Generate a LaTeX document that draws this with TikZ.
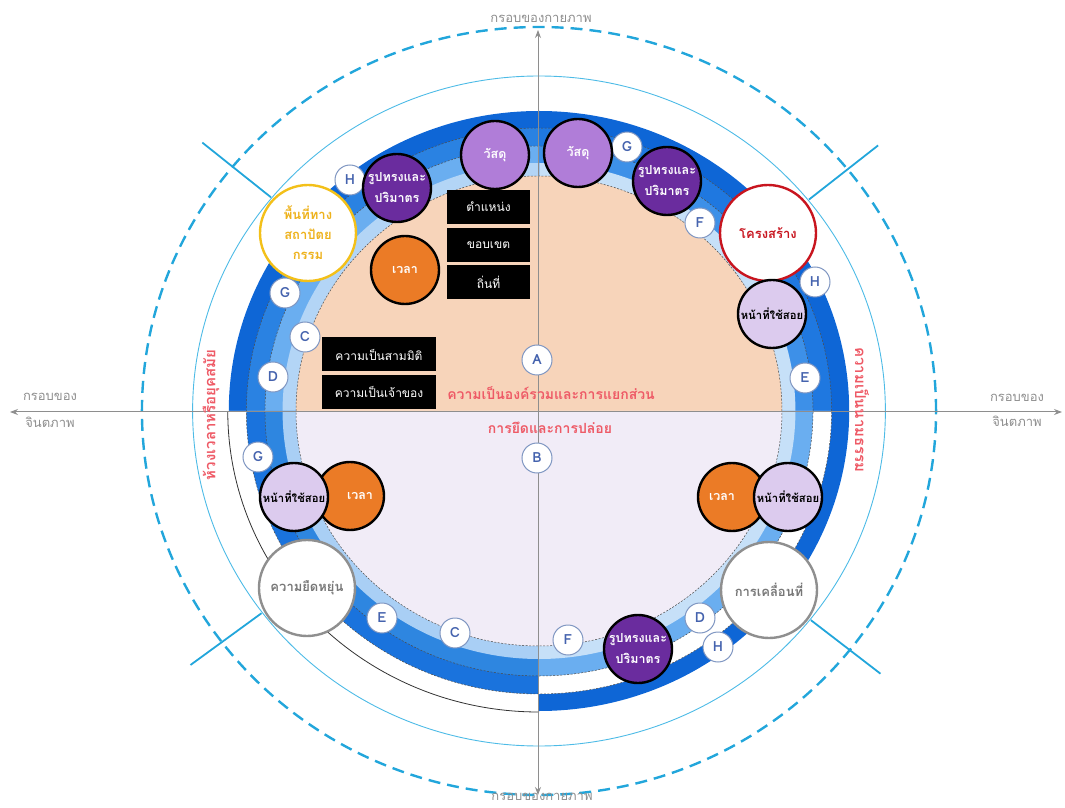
\documentclass[tikz,border=0pt]{standalone}
\usepackage{fontspec}
\setmainfont{Loma}[Script=Thai]
\usepackage{tikz}
\usetikzlibrary{arrows.meta}

\definecolor{peach}{HTML}{F7D4BA}
\definecolor{lilac}{HTML}{F1ECF7}
\definecolor{ringpale}{HTML}{C6E0F8}
\definecolor{ringsky}{HTML}{B3D5F6}
\definecolor{ringlight}{HTML}{A9CFF5}
\definecolor{ringsoft}{HTML}{6AAEF0}
\definecolor{ringmid}{HTML}{3D90E8}
\definecolor{ringbase}{HTML}{2E86E0}
\definecolor{ringmain}{HTML}{2A82E2}
\definecolor{ringdeep}{HTML}{1F78E0}
\definecolor{ringnavy}{HTML}{1A73DD}
\definecolor{ringdark}{HTML}{0E66D6}
\definecolor{frame}{HTML}{22A6DB}
\definecolor{framethin}{HTML}{4DBBE6}
\definecolor{axisgray}{HTML}{8E8E8E}
\definecolor{labelred}{HTML}{EE5A66}
\definecolor{badgeline}{HTML}{8097C2}
\definecolor{badgetext}{HTML}{4563AE}
\definecolor{matpurple}{HTML}{B07DD8}
\definecolor{formpurple}{HTML}{6A2C9E}
\definecolor{timeorange}{HTML}{EB7B26}
\definecolor{uselilac}{HTML}{DCCBEE}
\definecolor{gold}{HTML}{F3C019}
\definecolor{goldtext}{HTML}{EEB21C}
\definecolor{structred}{HTML}{C8151F}
\definecolor{softgray}{HTML}{8F8F8F}
\definecolor{softgraytext}{HTML}{777777}

\begin{document}
\begin{tikzpicture}[
    x=1pt, y=1pt,
    badge/.style={circle, draw=badgeline, line width=1pt, fill=white,
        minimum size=30pt, inner sep=0pt, text=badgetext,
        font=\bfseries\fontsize{14}{14}\selectfont},
    bubble/.style={circle, draw=black, line width=2.4pt, minimum size=68pt,
        inner sep=0pt, align=center, font=\bfseries\fontsize{12.5}{21}\selectfont},
    bigbubble/.style={bubble, minimum size=96pt, font=\bfseries\fontsize{13}{20}\selectfont},
    usefont/.style={font=\bfseries\fontsize{11.3}{13}\selectfont},
    blackbox/.style={fill=black, text=white, minimum height=34pt, inner sep=0pt,
        font=\fontsize{12}{14}\selectfont},
    redlabel/.style={text=labelred, font=\bfseries\fontsize{14}{16}\selectfont},
    graylabel/.style={text=axisgray, font=\fontsize{13}{15}\selectfont},
    sepline/.style={black!70, line width=0.5pt, dash pattern=on 2pt off 1.5pt},
    axisline/.style={axisgray, line width=1pt,
        {Stealth[length=8pt,width=6pt]}-{Stealth[length=8pt,width=6pt]}}
]
    \useasboundingbox (-539,-397) rectangle (526,411);

    \begin{scope}[xscale=1.034]
        % outer frames
        \draw[frame, line width=2.4pt, dash pattern=on 12pt off 7pt] (0,0) circle (384);
        \draw[framethin, line width=0.9pt] (0,0) circle (335);
        \foreach \a in {39,140.5,217,321.5}
            \draw[frame, line width=1.8pt] (\a:336) -- (\a:422);

        % ring bands, one quadrant at a time
        \foreach \a/\ci/\cii/\ciii/\civ in {0/ringpale/ringmid/ringdeep/ringdark,
                90/ringsky/ringsoft/ringmain/ringdark,
                180/ringlight/ringbase/ringnavy/white,
                270/ringpale/ringsoft/white/ringdark}{
            \foreach \r/\c in {300/\civ,283/\ciii,265/\cii,248/\ci}
                \fill[\c] (0,0) -- (\a:\r) arc[start angle=\a, delta angle=90, radius=\r] -- cycle;
        }

        % inner disc
        \fill[peach] (0,0) -- (0:235) arc[start angle=0, end angle=180, radius=235] -- cycle;
        \fill[lilac] (0,0) -- (180:235) arc[start angle=180, end angle=360, radius=235] -- cycle;
        \draw[sepline] (0,0) circle (235);
        \draw[sepline] (0,0) circle (265);
        \draw[sepline] (0,0) circle (283);
        \draw[black!80, line width=0.8pt] (180:301) arc[start angle=180, end angle=270, radius=301];
    \end{scope}

    % axes
    \coordinate (north) at (-1,381);
    \coordinate (south) at (-1,-384);
    \coordinate (west) at (-529,-1);
    \coordinate (east) at (523,-1);
    \draw[axisline] (south) -- (north);
    \draw[axisline] (west) -- (east);

    \node[graylabel] (phystop) at (2,392) {กรอบของกายภาพ};
    \node[graylabel] (physbot) at (3,-386) {กรอบของกายภาพ};
    \node[graylabel] (imgwa) at (-489,14) {กรอบของ};
    \node[graylabel] (imgwb) at (-489,-11) {จินตภาพ};
    \node[graylabel] (imgea) at (478,13) {กรอบของ};
    \node[graylabel] (imgeb) at (478,-10) {จินตภาพ};

    % side and centre labels
    \node[redlabel, rotate=90, font=\bfseries\fontsize{15}{17}\selectfont] (era) at (-328,-4) {ห้วงเวลาหรือยุคสมัย};
    \node[redlabel, rotate=-90, font=\bfseries\fontsize{15}{17}\selectfont] (abstract) at (323,1) {ความเป็นนามธรรม};
    \node[redlabel] (whole) at (12,18) {ความเป็นองค์รวมและการแยกส่วน};
    \node[redlabel] (hold) at (11,-17) {การยึดและการปล่อย};

    % black boxes
    \node[blackbox, minimum width=83pt] (pos) at (-50.5,204) {ตำแหน่ง};
    \node[blackbox, minimum width=83pt] (bound) at (-50.5,166) {ขอบเขต};
    \node[blackbox, minimum width=83pt] (place) at (-50.5,129) {ถิ่นที่};
    \node[blackbox, minimum width=114pt] (threed) at (-160,56.5) {ความเป็นสามมิติ};
    \node[blackbox, minimum width=114pt] (owner) at (-160,19) {ความเป็นเจ้าของ};

    % letter badges
    \node[badge] (hTL) at (-189,231) {H};
    \node[badge] (gTL) at (-254,118) {G};
    \node[badge] (cTL) at (-234,74) {C};
    \node[badge] (dTL) at (-266,34) {D};
    \node[badge] (a) at (-2,51) {A};
    \node[badge] (b) at (-2,-47) {B};
    \node[badge] (gTR) at (88,264) {G};
    \node[badge] (fTR) at (161,188) {F};
    \node[badge] (hTR) at (276,129) {H};
    \node[badge] (eTR) at (266,33) {E};
    \node[badge] (gBL) at (-281,-46) {G};
    \node[badge] (eBL) at (-157,-207) {E};
    \node[badge] (cBL) at (-84,-222) {C};
    \node[badge] (fB) at (29,-229) {F};
    \node[badge] (dBR) at (161,-207) {D};
    \node[badge] (hBR) at (179,-236) {H};

    % upper circles
    \node[bubble, fill=matpurple, text=white] (matL) at (-44,256) {วัสดุ};
    \node[bubble, fill=matpurple, text=white] (matR) at (39,258) {วัสดุ};
    \node[bubble, fill=formpurple, text=white] (formTL) at (-142,223) {รูปทรงและ\\ปริมาตร};
    \node[bubble, fill=formpurple, text=white] (formTR) at (128,230) {รูปทรงและ\\ปริมาตร};
    \node[bigbubble, draw=gold, fill=white, text=goldtext] (archi) at (-231,178) {พื้นที่ทาง\\สถาปัตย\\กรรม};
    \node[bubble, fill=timeorange, text=white] (timeTL) at (-134,141) {เวลา};
    \node[bigbubble, draw=structred, fill=white, text=structred] (struct) at (229,178) {โครงสร้าง};
    \node[bubble, usefont, fill=uselilac] (useTR) at (233,97) {หน้าที่ใช้สอย};

    % lower circles
    \node[bubble, fill=timeorange, text=white] (timeBL) at (-189,-85) {\hspace*{20pt}เวลา};
    \node[bubble, usefont, fill=uselilac] (useBL) at (-245,-86) {หน้าที่ใช้สอย};
    \node[bigbubble, draw=softgray, fill=white, text=softgraytext] (flex) at (-232,-177) {ความยืดหยุ่น};
    \node[bubble, fill=timeorange, text=white] (timeBR) at (193,-86) {เวลา\hspace*{20pt}};
    \node[bubble, usefont, fill=uselilac] (useBR) at (249,-86) {หน้าที่ใช้สอย};
    \node[bigbubble, draw=softgray, fill=white, text=softgraytext] (move) at (230,-179) {การเคลื่อนที่};
    \node[bubble, fill=formpurple, text=white] (formB) at (99,-238) {รูปทรงและ\\ปริมาตร};
\end{tikzpicture}
\end{document}
